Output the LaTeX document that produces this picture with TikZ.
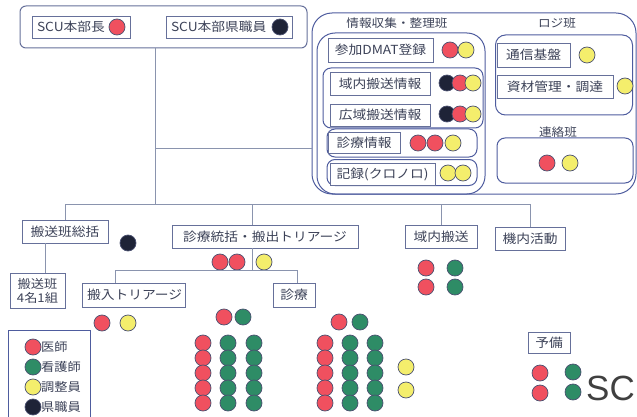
\documentclass[tikz,border=0pt]{standalone}
\usepackage{fontspec}
\newfontfamily\cjk[FakeStretch=1.1]{Noto Sans CJK JP}
\newfontfamily\lsans{Liberation Sans}
\definecolor{boxc}{HTML}{66709A}
\definecolor{grpc}{HTML}{4E5C9E}
\definecolor{wirec}{HTML}{8A94AE}
\definecolor{txt}{HTML}{3C4258}
\definecolor{dotc}{HTML}{4A5070}
\definecolor{cred}{HTML}{F0505F}
\definecolor{cgreen}{HTML}{2E8C66}
\definecolor{cyellow}{HTML}{F4EE6C}
\definecolor{cdark}{HTML}{1E2337}
\begin{document}
\begin{tikzpicture}[x=1pt,y=-1pt,
  box/.style={draw=boxc, line width=0.9pt, fill=white, text=txt,
    font=\cjk\fontsize{12.5}{14}\selectfont, inner sep=0pt, minimum height=23},
  grp/.style={draw=grpc, line width=1pt, rounded corners=8pt, inner sep=0pt},
  lbl/.style={text=txt, font=\cjk\fontsize{11.5}{13}\selectfont, inner sep=0pt},
  leg/.style={lbl, anchor=west, font=\cjk\fontsize{12}{13}\selectfont},
  dot/.style={circle, draw=dotc, line width=0.7pt, minimum size=16, inner sep=0pt},
  R/.style={dot, fill=cred}, G/.style={dot, fill=cgreen},
  Y/.style={dot, fill=cyellow}, K/.style={dot, fill=cdark},
  wire/.style={draw=wirec, line width=0.8pt}]
\useasboundingbox (0,0) rectangle (637,417);

% top HQ
\node[grp, rounded corners=6pt, draw=boxc, minimum width=287, minimum height=42] (hq) at (163.5,27) {};
\node[box, minimum width=98, text width=88, align=left, inner xsep=5, minimum height=22] (b1) at (81,27) {SCU本部長};
\node[R] (hqr) at (117,27) {};
\node[box, minimum width=126, text width=116, align=left, inner xsep=5, minimum height=22] (b2) at (229,27) {SCU本部県職員};
\node[K] (hqk) at (280,27) {};

% info + logistics
\node[grp, rounded corners=20pt, minimum width=324, minimum height=181] (info) at (474,103.5) {};
\node[lbl] (t1) at (397,23) {情報収集・整理班};
\node[lbl] (t2) at (557,23) {ロジ班};
\node[grp, rounded corners=18pt, minimum width=168, minimum height=161] (ig) at (401,113.5) {};

\node[box, minimum width=105, minimum height=24] (dmat) at (380.5,50) {参加DMAT登録};
\node[R] at (450,50) {}; \node[Y] at (466,50) {};

\node[grp, minimum width=160, minimum height=60] (g1) at (403,98) {};
\node[box, minimum width=100] (iki) at (380,83.5) {域内搬送情報};
\node[K] at (447,83) {}; \node[R] at (460,83) {}; \node[Y] at (473,83) {};
\node[box, minimum width=100, minimum height=22] (koi) at (380,115) {広域搬送情報};
\node[K] at (447,114) {}; \node[R] at (460,114) {}; \node[Y] at (473,114) {};

\node[grp, minimum width=150, minimum height=28] (g2) at (402,143) {};
\node[box, minimum width=72, minimum height=21] (shj) at (364,142.5) {診療情報};
\node[R] at (418,143) {}; \node[R] at (435,143) {}; \node[Y] at (453,143) {};

\node[grp, minimum width=150, minimum height=26] (g3) at (402,172.5) {};
\node[box, minimum width=105, minimum height=22] (kiroku) at (382.5,174) {記録(クロノロ)};
\node[Y] at (448,173) {}; \node[Y] at (463,173) {};

\node[grp, rounded corners=10pt, minimum width=137, minimum height=80] (logi) at (564,75) {};
\node[box, minimum width=73, minimum height=24] (tsu) at (533.5,55) {通信基盤};
\node[Y] at (587,55) {};
\node[box, minimum width=116] (shizai) at (555,86.5) {資材管理・調達};
\node[Y] at (625,86) {};

\node[lbl] (t3) at (558,132) {連絡班};
\node[grp, minimum width=136, minimum height=45] (renraku) at (565,160.5) {};
\node[R] at (547,163) {}; \node[Y] at (570,163) {};

% tree connectors
\coordinate (j1) at (155,148);
\coordinate (j2) at (155,204);
\draw[wire] (hq.south -| j1) -- (j2);
\draw[wire] (j1) -- (j1 -| info.west);

\node[box, minimum width=86] (hanso) at (65,231.5) {搬送班総括};
\node[K] at (128,243) {};
\node[box, minimum width=55, minimum height=35, align=center, font=\cjk\fontsize{12}{14}\selectfont] (kumi) at (37.5,290.5) {搬送班\\4名1組};
\node[box, minimum width=186] (st) at (265,236.5) {診療統括・搬出トリアージ};
\node[R] at (220,262) {}; \node[R] at (237,262) {}; \node[Y] at (264,262) {};
\node[box, minimum width=72] (ikinai) at (441,236.5) {域内搬送};
\node[box, minimum width=70] (kinai) at (530,238.5) {機内活動};
\node[R] at (426,268) {}; \node[G] at (455,268) {};
\node[R] at (426,287) {}; \node[G] at (455,287) {};

\draw[wire] (hanso.north |- j2) -- (kinai.north |- j2);
\draw[wire] (hanso.north |- j2) -- (hanso.north);
\draw[wire] (ikinai.north |- j2) -- (ikinai.north);
\draw[wire] (kinai.north |- j2) -- (kinai.north);
\coordinate (c1) at (252,204);
\draw[wire] (c1) -- (c1 |- st.north);
\coordinate (c2) at (45,250);
\draw[wire] (hanso.south -| c2) -- (kumi.north -| c2);

\node[box, minimum width=103, text width=93, align=left, inner xsep=5, minimum height=24] (hannyu) at (133.5,295) {搬入トリアージ};
\node[box, minimum width=42, minimum height=24] (shinryo) at (294,295) {診療};
\node[R] at (102,323) {}; \node[Y] at (128,323) {};
\coordinate (c3) at (252,270);
\coordinate (c4) at (115,270);
\coordinate (c5) at (297,270);
\draw[wire] (c3 |- st.south) -- (c3);
\draw[wire] (c4) -- (c5);
\draw[wire] (c4) -- (c4 |- hannyu.north);
\draw[wire] (c5) -- (c5 |- shinryo.north);

% dot arrays
\node[R] at (224,317) {}; \node[G] at (243,317) {};
\foreach \i in {0,...,4} {
  \node[R] at (203,343+15*\i) {};
  \node[G] at (228,343+15*\i) {};
  \node[G] at (254,343+15*\i) {};
}
\node[R] at (339,322) {}; \node[G] at (360,322) {};
\foreach \i in {0,...,4} {
  \node[R] at (325,343+15*\i) {};
  \node[G] at (350,343+15*\i) {};
  \node[G] at (375,343+15*\i) {};
}
\node[Y] at (406,367) {}; \node[Y] at (406,390) {};

% legend
\node[draw=grpc, line width=1pt, minimum width=82, minimum height=95, inner sep=0pt] (legend) at (49,377.5) {};
\node[R] (l1) at (33,347) {}; \node[leg] at (41,347) {医師};
\node[G] (l2) at (33,367) {}; \node[leg] at (41,367) {看護師};
\node[Y] (l3) at (33,387) {}; \node[leg] at (41,387) {調整員};
\node[K] (l4) at (33,407) {}; \node[leg] at (41,407) {県職員};

% reserve
\node[box, minimum width=42, minimum height=21] (yobi) at (549,342.5) {予備};
\node[R] at (540,373) {}; \node[G] at (573,372) {};
\node[R] at (540,393) {}; \node[G] at (573,392) {};
\node[anchor=base west, inner sep=0pt, text=black!75, font=\lsans\fontsize{35}{38}\selectfont] (sc) at (586,400) {SC};
\end{tikzpicture}
\end{document}
